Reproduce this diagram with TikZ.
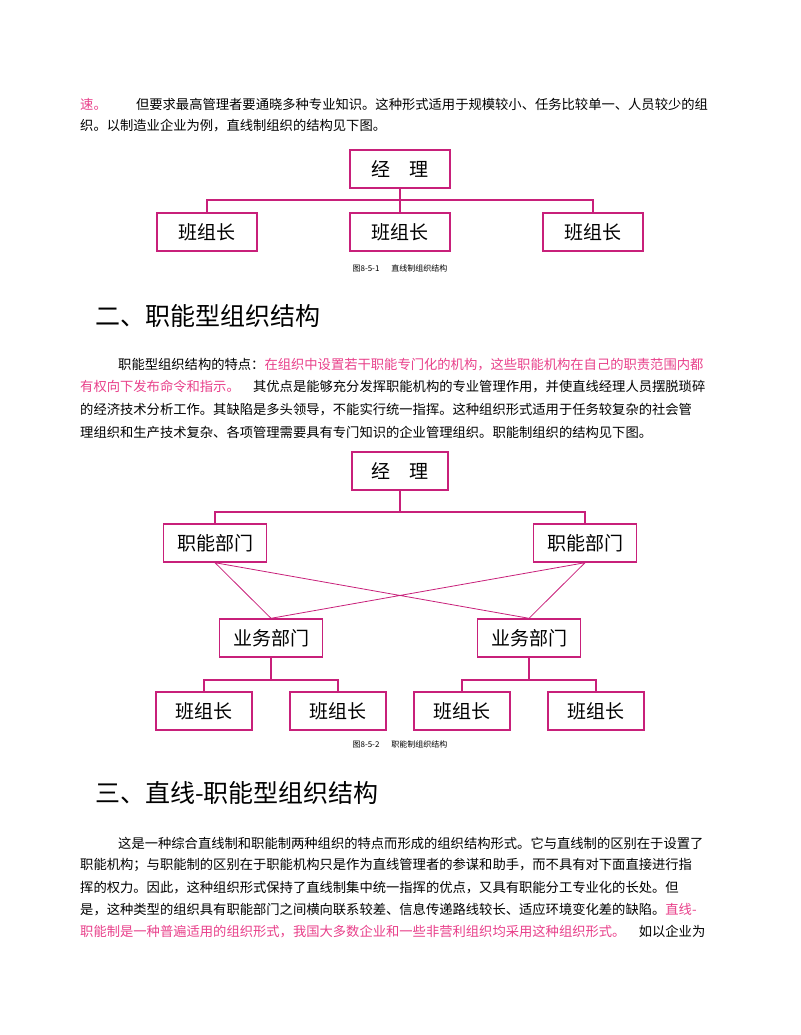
\documentclass[tikz,border=0pt]{standalone}
\usepackage{fontspec}
\setmainfont{Noto Sans CJK SC}
\definecolor{bx}{HTML}{C8207A}
\definecolor{pk}{HTML}{E8408A}
\begin{document}
\begin{tikzpicture}[x=1pt,y=-1pt,
  box/.style={draw=bx,line width=1.4pt,minimum height=38pt,inner sep=0pt,font=\fontsize{19}{19}\selectfont},
  ln/.style={draw=bx,line width=1.2pt},
  tl/.style={anchor=west,inner sep=0pt,font=\fontsize{13.3}{13.3}\selectfont},
  figcap/.style={inner sep=0pt,font=\fontsize{8}{8}\selectfont},
  hd/.style={anchor=west,inner sep=0pt,font=\fontsize{25}{25}\selectfont}]
\useasboundingbox (0,0) rectangle (800,1035);
% para 1
\node[tl] (t1) at (80,104) {\textcolor{pk}{速。}\hspace{2.2em}但要求最高管理者要通晓多种专业知识。这种形式适用于规模较小、任务比较单一、人员较少的组};
\node[tl] (t2) at (80,126) {织。以制造业企业为例，直线制组织的结构见下图。};
% chart 1
\node[box,minimum width=100pt] (m1) at (400,169) {经\hspace{1em}理};
\node[box,minimum width=100pt] (a1) at (207,232) {班组长};
\node[box,minimum width=100pt] (a2) at (400,232) {班组长};
\node[box,minimum width=100pt] (a3) at (593,232) {班组长};
\coordinate (j1) at (400,200);
\draw[ln] (m1.south) -- (j1);
\draw[ln] (a1.north) |- (j1) -| (a3.north);
\draw[ln] (j1) -- (a2.north);
\node[figcap] (c1) at (400,268) {图8-5-1\hspace{1.5em}直线制组织结构};
% heading 2
\node[hd] (h2) at (95,316) {二、职能型组织结构};
\node[tl] (p1) at (118,365) {职能型组织结构的特点：\textcolor{pk}{在组织中设置若干职能专门化的机构，这些职能机构在自己的职责范围内都}};
\node[tl] (p2) at (80,387) {\textcolor{pk}{有权向下发布命令和指示。}\hspace{1em}其优点是能够充分发挥职能机构的专业管理作用，并使直线经理人员摆脱琐碎};
\node[tl] (p3) at (80,410) {的经济技术分析工作。其缺陷是多头领导，不能实行统一指挥。这种组织形式适用于任务较复杂的社会管};
\node[tl] (p4) at (80,432) {理组织和生产技术复杂、各项管理需要具有专门知识的企业管理组织。职能制组织的结构见下图。};
% chart 2
\node[box,minimum width=96pt] (m2) at (400,471) {经\hspace{1em}理};
\node[box,minimum width=103pt] (f1) at (215,543) {职能部门};
\node[box,minimum width=103pt] (f2) at (585,543) {职能部门};
\node[box,minimum width=103pt] (y1) at (271,638) {业务部门};
\node[box,minimum width=103pt] (y2) at (529,638) {业务部门};
\node[box,minimum width=96pt] (b1) at (204,711) {班组长};
\node[box,minimum width=96pt] (b2) at (338,711) {班组长};
\node[box,minimum width=96pt] (b3) at (462,711) {班组长};
\node[box,minimum width=96pt] (b4) at (596,711) {班组长};
\coordinate (j2) at (400,512);
\draw[ln] (m2.south) -- (j2);
\draw[ln] (f1.north) |- (j2) -| (f2.north);
\draw[ln,line width=0.8pt] (f1.south) -- (y1.north) (f1.south) -- (y2.north)
  (f2.south) -- (y1.north) (f2.south) -- (y2.north);
\coordinate (k1) at (271,680);
\coordinate (k2) at (529,680);
\draw[ln] (y1.south) -- (k1);
\draw[ln] (b1.north) |- (k1) -| (b2.north);
\draw[ln] (y2.south) -- (k2);
\draw[ln] (b3.north) |- (k2) -| (b4.north);
\node[figcap] (c2) at (400,744) {图8-5-2\hspace{1.5em}职能制组织结构};
% heading 3
\node[hd] (h3) at (95,793) {三、直线-职能型组织结构};
\node[tl] (q1) at (118,843) {这是一种综合直线制和职能制两种组织的特点而形成的组织结构形式。它与直线制的区别在于设置了};
\node[tl] (q2) at (80,865) {职能机构；与职能制的区别在于职能机构只是作为直线管理者的参谋和助手，而不具有对下面直接进行指};
\node[tl] (q3) at (80,888) {挥的权力。因此，这种组织形式保持了直线制集中统一指挥的优点，又具有职能分工专业化的长处。但};
\node[tl] (q4) at (80,910) {是，这种类型的组织具有职能部门之间横向联系较差、信息传递路线较长、适应环境变化差的缺陷。\textcolor{pk}{直线-}};
\node[tl] (q5) at (80,932) {\textcolor{pk}{职能制是一种普遍适用的组织形式，我国大多数企业和一些非营利组织均采用这种组织形式。}\hspace{1em}如以企业为};
\end{tikzpicture}
\end{document}
